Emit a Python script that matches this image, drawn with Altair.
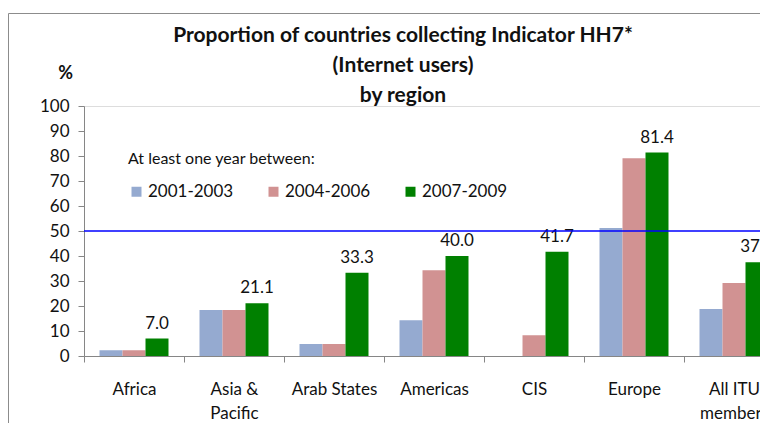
import altair as alt
import pandas as pd

# ---- data ----
regions = ["Africa", "Asia & Pacific", "Arab States", "Americas", "CIS", "Europe", "All ITU members"]
periods = ["2001-2003", "2004-2006", "2007-2009"]
v_2001_2003 = [2.3, 18.4, 4.8, 14.3, 0.0, 51.2, 18.8]
v_2004_2006 = [2.3, 18.4, 4.8, 34.3, 8.3, 79.1, 29.2]
v_2007_2009 = [7.0, 21.1, 33.3, 40.0, 41.7, 81.4, 37.5]
bar_colors = ["#95AAD0", "#D19292", "#008000"]
reference_line = [50]
y_ticks = [0, 10, 20, 30, 40, 50, 60, 70, 80, 90, 100]
title_lines = ["Proportion of countries collecting Indicator HH7*", "(Internet users)", "by region"]

rows = []
for i, r in enumerate(regions):
    for p, vals in zip(periods, [v_2001_2003, v_2004_2006, v_2007_2009]):
        rows.append({"region": r, "period": p, "value": vals[i]})
df = pd.DataFrame(rows)

FONT = "Lato"
TXT = "#111111"
GREY = "#868686"

x_axis = alt.Axis(
    title=None, labelAngle=0, domainColor=GREY, tickColor=GREY, tickSize=6,
    tickBand="extent", labelFont=FONT, labelFontSize=17, labelColor=TXT,
    labelPadding=19, labelLineHeight=24, labelBaseline="top", labelOverlap=False,
    labelExpr="datum.label == 'Asia & Pacific' ? ['Asia &', 'Pacific'] : "
              "datum.label == 'All ITU members' ? ['All ITU', 'members'] : datum.label",
)
x_scale = alt.Scale(domain=regions, range=[0, 700], paddingInner=0, paddingOuter=0)
y_axis = alt.Axis(
    values=y_ticks, grid=False, domainColor=GREY, tickColor=GREY,
    tickSize=6, labelFont=FONT, labelFontSize=17, labelColor=TXT, labelPadding=9,
    labelOverlap=False,
    title="%", titleAngle=0, titleX=-19, titleY=-33, titleFont=FONT,
    titleFontSize=18, titleFontWeight="bold", titleColor=TXT,
    titleAlign="center", titleBaseline="middle",
)
y_scale = alt.Scale(domain=[0, 100], nice=False)
xo_enc = alt.XOffset("period:N", sort=periods,
                     scale=alt.Scale(domain=periods, paddingInner=0, paddingOuter=0.674))

bars = alt.Chart(df).mark_bar().encode(
    x=alt.X("region:N", sort=regions, scale=x_scale, axis=x_axis),
    xOffset=xo_enc,
    y=alt.Y("value:Q", scale=y_scale, axis=y_axis),
    color=alt.Color(
        "period:N", sort=periods,
        scale=alt.Scale(domain=periods, range=bar_colors),
        legend=alt.Legend(
            orient="none", legendX=44, legendY=45, direction="horizontal",
            title="At least one year between:", titleFont=FONT, titleFontSize=16,
            titleFontWeight="normal", titleColor=TXT, titlePadding=16, titleLimit=400,
            labelFont=FONT, labelFontSize=17, labelColor=TXT, labelOffset=3,
            symbolType="square", symbolSize=100, symbolStrokeWidth=0,
            columnPadding=31, padding=0, labelLimit=200,
        ),
    ),
)

labels = alt.Chart(df).transform_filter(
    alt.datum.period == "2007-2009"
).mark_text(font=FONT, fontSize=17, color=TXT, baseline="bottom", dy=-6).encode(
    x=alt.X("region:N", sort=regions, scale=x_scale, axis=x_axis),
    xOffset=xo_enc,
    y=alt.Y("value:Q", scale=y_scale, axis=y_axis),
    text=alt.Text("value:Q", format=".1f"),
)

rule = alt.Chart(pd.DataFrame({"value": reference_line})).mark_rule(
    color="#0000FF", strokeWidth=1.6
).encode(y=alt.Y("value:Q", scale=y_scale, axis=y_axis))

frame_df = pd.DataFrame({"k": [0]})
frame_left = alt.Chart(frame_df).mark_rule(color="#8C8C8C", strokeWidth=1).encode(
    x=alt.value(-75.5), y=alt.value(-92.5), y2=alt.value(330)
)
frame_top = alt.Chart(frame_df).mark_rule(color="#8C8C8C", strokeWidth=1).encode(
    x=alt.value(-75.5), x2=alt.value(720), y=alt.value(-92.5)
)

chart = alt.layer(bars, labels, rule, frame_left, frame_top).properties(
    width=676,
    height=250,
    autosize=alt.AutoSizeParams(type="none"),
    padding={"left": 76, "top": 98, "right": 0, "bottom": 67},
    title=alt.TitleParams(
        text=title_lines, font=FONT, fontSize=21, fontWeight="bold", color=TXT,
        anchor="middle", dx=-19, offset=-93, lineHeight=30,
    ),
).configure_view(stroke=None).configure_axisY(labelOverlap=False).configure(background="white")

chart.save("out.html", embed_options={"renderer": "svg", "actions": False})
